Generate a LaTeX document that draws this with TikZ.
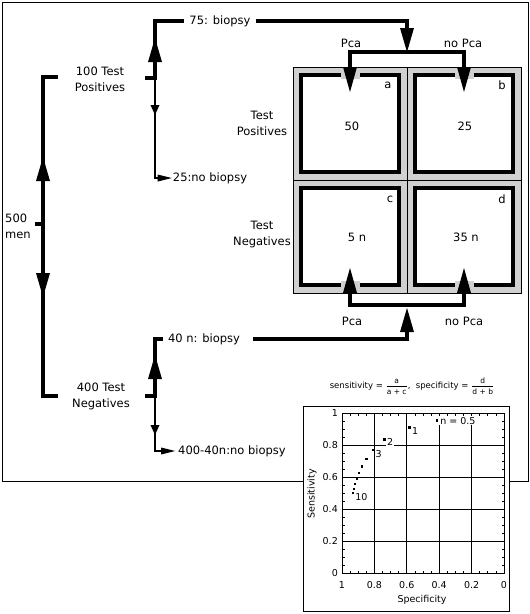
\documentclass[tikz,border=0pt]{standalone}
\usepackage{fontspec}
\setmainfont{DejaVu Sans}
\usepackage{amsmath}
\usetikzlibrary{arrows.meta}
\definecolor{cellgray}{HTML}{D0D0D0}
\newcommand\ratio[2]{$\dfrac{\text{\fontsize{7.5}{8}\selectfont #1}}{\text{\fontsize{7.5}{8}\selectfont #2}}$}

\begin{document}
\begin{tikzpicture}[x=1pt, y=-1pt,
    trunk/.style={line width=4.5pt, line join=miter},
    twig/.style={line width=1.6pt, line join=miter},
    bighead/.style={-{Triangle[length=24pt, width=14pt, line width=0pt]}},
    bothheads/.style={{Triangle[length=25pt, width=14pt, line width=0pt]}-{Triangle[length=25pt, width=14pt, line width=0pt]}},
    smallhead/.style={-{Triangle[length=10pt, width=9pt, line width=0pt]}},
    sidehead/.style={-{Triangle[length=14pt, width=7pt, line width=0pt]}},
    lbl/.style={font=\fontsize{11.5}{16}\selectfont, align=center, inner sep=0pt},
    plotlbl/.style={font=\fontsize{9.5}{11}\selectfont, inner sep=0pt},
    plotline/.style={line width=0.9pt}]
  \useasboundingbox (0,0) rectangle (530,614);
  \draw[line width=1pt] (2.5,2.5) rectangle (528.5,481);

  \coordinate (stub) at (35,224);
  \coordinate (root) at (43,224);
  \coordinate (tp) at (43,77);
  \coordinate (tn) at (43,396);
  \coordinate (tipup) at (43,157);
  \coordinate (tipdown) at (43,297);
  \coordinate (posleft) at (58,77);
  \coordinate (negleft) at (58,396);
  \node[lbl, align=left, anchor=west] (men) at (5,226) {500\\men};
  \node[lbl] (pos) at (100,79) {100 Test\\Positives};
  \node[lbl] (neg) at (101,396) {400 Test\\Negatives};
  \draw[trunk] (stub) -- (root);
  \draw[trunk] (posleft) -- (tp) -- (tn) -- (negleft);
  \draw[trunk, bighead] (root) -- (tipup);
  \draw[trunk, bighead] (root) -- (tipdown);

  \coordinate (pstub) at (145,78);
  \coordinate (sp) at (155,78);
  \coordinate (bp) at (155,21);
  \coordinate (tipp) at (155,38);
  \coordinate (tipq) at (155,115);
  \coordinate (nbp) at (155,178);
  \node[lbl, inner xsep=5pt] (b75) at (220,21) {75: biopsy};
  \node[lbl, inner xsep=1pt] (nb25) at (210,178) {25:no biopsy};
  \draw[trunk] (pstub) -- (sp) -- (bp) -- (b75.west);
  \draw[trunk, bighead] (sp) -- (tipp);
  \draw[twig, smallhead] (sp) -- (tipq);
  \draw[twig, sidehead] (sp) -- (nbp) -- (nb25.west);

  \coordinate (nstub) at (145,396);
  \coordinate (sn) at (155,396);
  \coordinate (bn) at (155,339);
  \coordinate (tipr) at (155,355);
  \coordinate (tips) at (155,435);
  \coordinate (nbn) at (155,451);
  \coordinate (line40) at (253,339);
  \node[lbl, inner xsep=5pt] (b40) at (204,339) {40 n: biopsy};
  \node[lbl, inner xsep=3pt] (nb400) at (232,451) {400-40n:no biopsy};
  \draw[trunk] (nstub) -- (sn) -- (bn) -- (b40.west);
  \draw[trunk, bighead] (sn) -- (tipr);
  \draw[twig, smallhead] (sn) -- (tips);
  \draw[twig, sidehead] (sn) -- (nbn) -- (nb400.west);

  \fill[cellgray] (293,67) rectangle (521,293);
  \draw[line width=0.8pt] (293,67) rectangle (521,293);
  \draw[line width=0.8pt] (407,67) -- (407,293);
  \draw[line width=0.8pt] (293,180) -- (521,180);
  \draw[trunk, fill=white] (301,75) rectangle (399,172);
  \draw[trunk, fill=white] (415,75) rectangle (513,172);
  \draw[trunk, fill=white] (301,188) rectangle (399,285);
  \draw[trunk, fill=white] (415,188) rectangle (513,285);
  \node[lbl] (na) at (352,126) {50};
  \node[lbl] (nb) at (465,126) {25};
  \node[lbl] (nc) at (357,237) {5 n};
  \node[lbl] (nd) at (466,237) {35 n};
  \node[lbl] (la) at (388,85) {a};
  \node[lbl] (lb) at (502,85) {b};
  \node[lbl] (lc) at (390,199) {c};
  \node[lbl] (ld) at (502,199) {d};
  \node[lbl] (rowpos) at (262,123) {Test\\Positives};
  \node[lbl] (rowneg) at (262,234) {Test\\Negatives};

  \coordinate (fork1) at (407,52);
  \coordinate (fork2) at (407,305);
  \coordinate (fork2tip) at (407,308);
  \coordinate (ina) at (350,92);
  \coordinate (inb) at (464,92);
  \coordinate (inc) at (350,268);
  \coordinate (ind) at (464,268);
  \fill[cellgray] (341,71) rectangle (360,79);
  \fill[cellgray] (455,71) rectangle (474,79);
  \fill[cellgray] (341,281) rectangle (360,289);
  \fill[cellgray] (455,281) rectangle (474,289);
  \draw[trunk, bighead] (b75.east) -- (b75.east -| fork1) -- (fork1);
  \draw[trunk, bothheads] (ina) -- (ina |- fork1) -- (inb |- fork1) -- (inb);
  \draw[trunk, bothheads] (inc) -- (inc |- fork2) -- (ind |- fork2) -- (ind);
  \draw[trunk, bighead] (line40) -- (line40 -| fork2) -- (fork2tip);
  \node[lbl] (pca1) at (351,43) {Pca};
  \node[lbl] (nopca1) at (463,43) {no Pca};
  \node[lbl] (pca2) at (352,321) {Pca};
  \node[lbl] (nopca2) at (464,321) {no Pca};

  \draw[line width=1pt, fill=white] (303,406) rectangle (509,611);
  \node[font=\fontsize{8.5}{10}\selectfont, inner sep=0pt] (formula) at (412,386)
    {sensitivity = \ratio{a}{a + c}, \ specificity = \ratio{d}{d + b}};
  \node[plotlbl] (xtitle) at (422,600) {Specificity};
  \node[plotlbl, rotate=90] (ytitle) at (312,494) {Sensitivity};
  \begin{scope}[shift={(504pt,-573pt)}, x={(-162pt,0pt)}, y={(0pt,160pt)}]
    \foreach \g in {0.2,0.4,0.6,0.8} {
      \draw[plotline] (\g,0) -- (\g,1);
      \draw[plotline] (0,\g) -- (1,\g);
    }
    \foreach \t in {0.05,0.1,...,0.96} {
      \draw[line width=0.7pt] (\t,0) -- ++(0,2.5pt);
      \draw[line width=0.7pt] (\t,1) -- ++(0,-2.5pt);
      \draw[line width=0.7pt] (1,\t) -- ++(2.5pt,0);
      \draw[line width=0.7pt] (0,\t) -- ++(-2.5pt,0);
    }
    \draw[plotline] (0,0) rectangle (1,1);
    \foreach \v/\s [count=\i] in {0/0, 0.2/0.2, 0.4/0.4, 0.6/0.6, 0.8/0.8, 1/1} {
      \node[plotlbl, anchor=east] (ytick\i) at ([xshift=-4pt]1,\v) {\s};
      \node[plotlbl, anchor=north] (xtick\i) at ([yshift=-8pt]\v,0) {\s};
    }
    \foreach \n [count=\k] in {0.5,1,2,3,4,5,6,7,8,9,10} {
      \pgfmathsetmacro\se{50/(50+5*\n)}
      \pgfmathsetmacro\sp{35*\n/(35*\n+25)}
      \coordinate (pt\k) at (\sp,\se);
      \fill (pt\k) ++(-1.2pt,-1.2pt) rectangle ++(2.4pt,2.4pt);
    }
    \node[plotlbl, anchor=west, fill=white, inner sep=0.8pt] (lab1) at ([xshift=2pt]pt1) {n = 0.5};
    \node[plotlbl, anchor=west, fill=white, inner sep=0.8pt] (lab2) at ([xshift=1.5pt, yshift=-3pt]pt2) {1};
    \node[plotlbl, anchor=west, fill=white, inner sep=0.8pt] (lab3) at ([xshift=1.5pt, yshift=-2pt]pt3) {2};
    \node[plotlbl, anchor=west, fill=white, inner sep=0.8pt] (lab4) at ([xshift=1.5pt, yshift=-4pt]pt4) {3};
    \node[plotlbl, anchor=west, fill=white, inner sep=0.8pt] (lab11) at ([xshift=1.5pt, yshift=-4pt]pt11) {10};
  \end{scope}
\end{tikzpicture}
\end{document}
